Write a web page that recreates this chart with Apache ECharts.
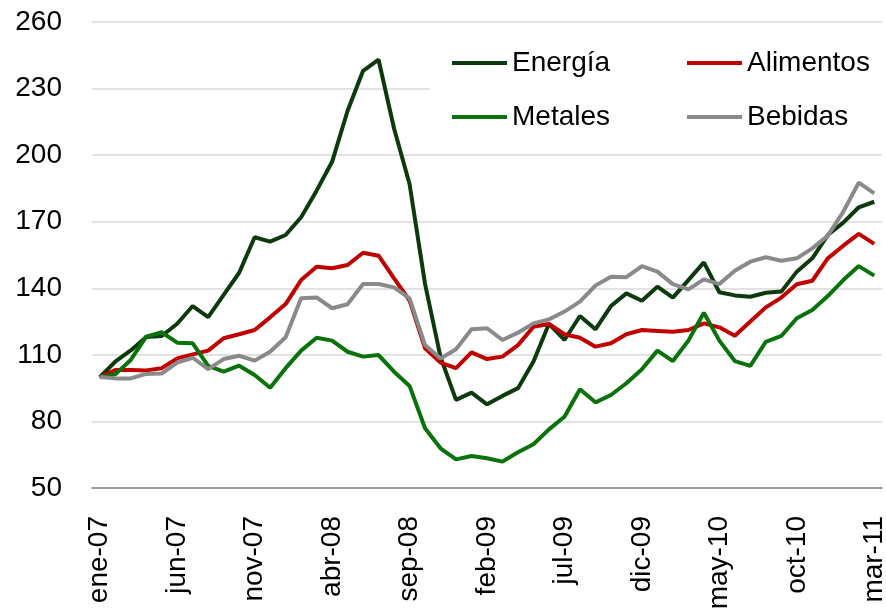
<!DOCTYPE html>
<html>
<head>
<meta charset="utf-8">
<script src="https://cdn.jsdelivr.net/npm/echarts@6/dist/echarts.min.js"></script>
<style>
  html, body { margin: 0; padding: 0; background: #fff; }
  #chart { width: 886px; height: 613px; }
</style>
</head>
<body>
<div id="chart"></div>
<script>
// meses ene-07 .. mar-11
const months = [
  'ene-07', 'feb-07', 'mar-07', 'abr-07', 'may-07', 'jun-07', 'jul-07', 'ago-07', 'sep-07', 'oct-07', 'nov-07', 'dic-07',
  'ene-08', 'feb-08', 'mar-08', 'abr-08', 'may-08', 'jun-08', 'jul-08', 'ago-08', 'sep-08', 'oct-08', 'nov-08', 'dic-08',
  'ene-09', 'feb-09', 'mar-09', 'abr-09', 'may-09', 'jun-09', 'jul-09', 'ago-09', 'sep-09', 'oct-09', 'nov-09', 'dic-09',
  'ene-10', 'feb-10', 'mar-10', 'abr-10', 'may-10', 'jun-10', 'jul-10', 'ago-10', 'sep-10', 'oct-10', 'nov-10', 'dic-10',
  'ene-11', 'feb-11', 'mar-11'
];

const energia = [100, 106.9, 112, 118, 118.5, 124, 132, 127, 137, 147, 163, 161, 164, 172, 184, 197, 220, 238, 243, 212,
  187, 142, 109, 89.7, 93, 87.7, 91.5, 95, 107, 124, 116.7, 127.5, 121.5, 132, 137.7, 134.4, 140.7, 135.8, 143.7, 151.7,
  138.2, 136.8, 136.2, 138, 138.5, 147.5, 153.5, 164, 169.6, 176.5, 179];

const alimentos = [100, 103.2, 103.2, 103, 104, 108.4, 110.2, 111.9, 117.5, 119.3, 121.2, 126.9, 132.9, 143.7, 149.7, 149,
  150.5, 156, 154.7, 144.5, 134.5, 113, 106.5, 104, 111.1, 108.1, 109.2, 114.4, 122.7, 123.9, 119.3, 117.7, 113.7, 115.2,
  119.3, 121.2, 120.8, 120.4, 121.2, 124.2, 122.4, 118.6, 125, 131.4, 135.8, 141.8, 143.4, 153.5, 159.2, 164.5, 160];

const metales = [100, 101.2, 107.7, 118.2, 120.2, 115.5, 115.2, 105, 102.4, 105.1, 100.9, 95.2, 104, 111.9, 117.7, 116.4,
  111.4, 109.2, 109.9, 102.4, 96, 76.9, 67.9, 62.9, 64.4, 63.4, 61.9, 66.1, 69.7, 76.4, 82.1, 94.5, 88.6, 91.9, 97.2, 103.5,
  111.9, 107.2, 116.4, 129, 116.4, 107.2, 105, 115.9, 118.5, 126.5, 130.2, 136.5, 143.7, 150, 145.7];

const bebidas = [100, 99.4, 99.4, 101.4, 101.6, 106.5, 108.7, 103.6, 108.1, 109.6, 107.4, 111.4, 117.9, 135.5, 135.9, 131,
  132.8, 141.9, 141.9, 140.4, 135.5, 114.4, 108.4, 112.5, 121.5, 122, 116.7, 120, 124.2, 126, 129.5, 134, 141.2, 145.2, 145,
  150, 147.5, 141.9, 139.5, 144, 141.9, 147.9, 152, 154, 152.4, 153.5, 158, 163.7, 174.5, 187.6, 182.8];

const font = 'Liberation Sans, Arial, sans-serif';

function line(name, data, color) {
  return {
    name: name,
    type: 'line',
    data: data,
    symbol: 'none',
    lineStyle: { color: color, width: 4 },
    itemStyle: { color: color },
    animation: false
  };
}

const chart = echarts.init(document.getElementById('chart'));
chart.setOption({
  animation: false,
  grid: { left: 92, right: 4, top: 22, bottom: 125, outerBoundsMode: 'none' },
  legend: {
    left: 430,
    top: 30,
    width: 460,
    padding: [18, 10, 13, 22],
    backgroundColor: '#fff',
    icon: 'rect',
    itemWidth: 55,
    itemHeight: 4,
    itemGap: 24,
    textStyle: { fontFamily: font, fontSize: 28, color: '#000', width: 151, lineHeight: 30 },
    data: ['Energía', 'Alimentos', 'Metales', 'Bebidas']
  },
  xAxis: {
    type: 'category',
    data: months,
    boundaryGap: true,
    axisLine: { lineStyle: { color: '#868686', width: 1.5 } },
    axisTick: { interval: 4, length: 9, lineStyle: { color: '#868686', width: 1.5 } },
    axisLabel: { interval: 4, rotate: 90, margin: 28, fontFamily: font, fontSize: 28, color: '#000' },
    splitLine: { show: false }
  },
  yAxis: {
    type: 'value',
    min: 50,
    max: 260,
    interval: 30,
    axisLine: { show: false },
    axisTick: { show: false },
    axisLabel: { margin: 30, fontFamily: font, fontSize: 28, color: '#000' },
    splitLine: { lineStyle: { color: '#d9d9d9', width: 1.5 } }
  },
  series: [
    line('Energía', energia, '#0c3a0c'),
    line('Alimentos', alimentos, '#c00000'),
    line('Metales', metales, '#0a720a'),
    line('Bebidas', bebidas, '#8a8a8a')
  ]
});
</script>
</body>
</html>
